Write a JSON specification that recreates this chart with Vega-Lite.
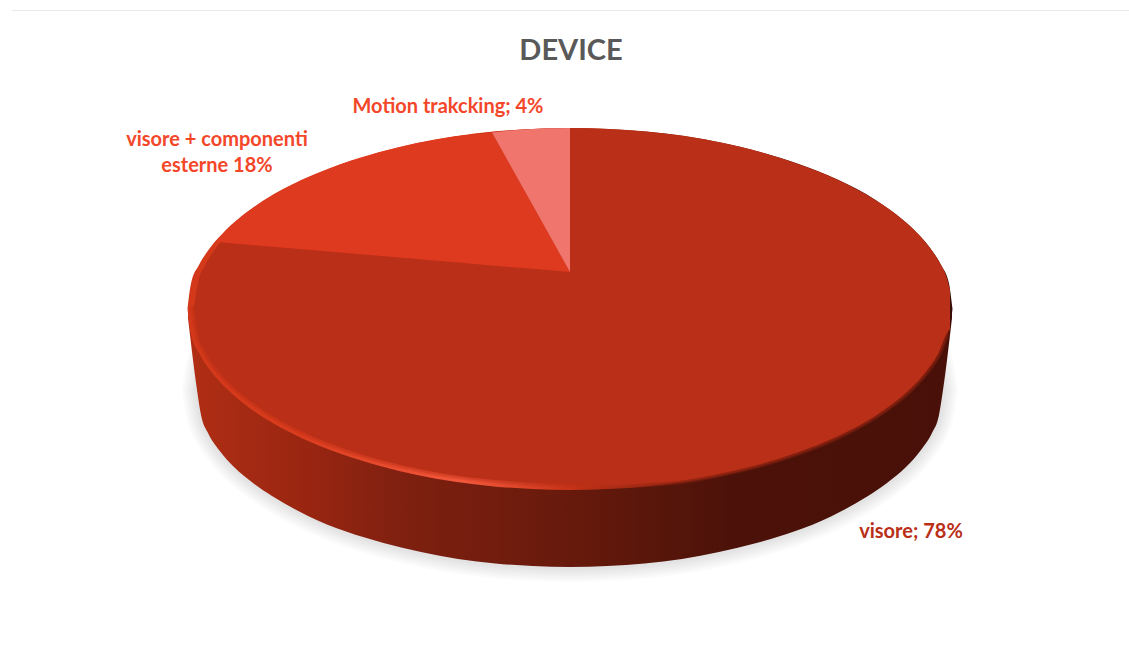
{
  "$schema": "https://vega.github.io/schema/vega-lite/v6.json",
  "width": 1129,
  "height": 666,
  "padding": 0,
  "autosize": {"type": "none"},
  "background": "#ffffff",
  "config": {"view": {"stroke": null}},
  "datasets": {
    "base": [
      {"x":197,"top":390,"low":390},{"x":201,"top":365,"low":415},{"x":208,"top":347,"low":433},{"x":219,"top":330,"low":450},{"x":234,"top":313,"low":467},{"x":253,"top":297,"low":483},{"x":272,"top":284,"low":496},{"x":309,"top":263.6,"low":516.4},{"x":346,"top":248.4,"low":531.6},{"x":383.5,"top":237,"low":543},{"x":421,"top":228,"low":552},{"x":458,"top":221,"low":559},{"x":495.4,"top":216.5,"low":563.5},{"x":532.7,"top":214,"low":566},{"x":570,"top":213,"low":567},{"x":607.3,"top":214,"low":566},{"x":644.6,"top":216.5,"low":563.5},{"x":682,"top":221,"low":559},{"x":719,"top":228,"low":552},{"x":756.5,"top":237,"low":543},{"x":794,"top":248.4,"low":531.6},{"x":831,"top":263.6,"low":516.4},{"x":868,"top":284,"low":496},{"x":887,"top":297,"low":483},{"x":906,"top":313,"low":467},{"x":921,"top":330,"low":450},{"x":932,"top":347,"low":433},{"x":939,"top":365,"low":415},{"x":943,"top":390,"low":390}
    ],
    "side": [
      {"x":188,"top":309,"low":318},{"x":197,"top":309,"low":390},{"x":201,"top":309,"low":415},{"x":208,"top":309,"low":433},{"x":219,"top":309,"low":450},{"x":234,"top":309,"low":467},{"x":253,"top":309,"low":483},{"x":272,"top":309,"low":496},{"x":309,"top":309,"low":516.4},{"x":346,"top":309,"low":531.6},{"x":383.5,"top":309,"low":543},{"x":421,"top":309,"low":552},{"x":458,"top":309,"low":559},{"x":495.4,"top":309,"low":563.5},{"x":532.7,"top":309,"low":566},{"x":570,"top":309,"low":567},{"x":607.3,"top":309,"low":566},{"x":644.6,"top":309,"low":563.5},{"x":682,"top":309,"low":559},{"x":719,"top":309,"low":552},{"x":756.5,"top":309,"low":543},{"x":794,"top":309,"low":531.6},{"x":831,"top":309,"low":516.4},{"x":868,"top":309,"low":496},{"x":887,"top":309,"low":483},{"x":906,"top":309,"low":467},{"x":921,"top":309,"low":450},{"x":932,"top":309,"low":433},{"x":939,"top":309,"low":415},{"x":943,"top":309,"low":390},{"x":952,"top":309,"low":318}
    ],
    "rim": [
      {"x":187.5,"top":309,"low":309},{"x":191,"top":283.5,"low":334.5},{"x":199,"top":265,"low":353},{"x":210.5,"top":247.3,"low":370.7},{"x":226,"top":230,"low":388},{"x":245,"top":213.6,"low":404.4},{"x":264,"top":200.2,"low":417.8},{"x":302,"top":179.8,"low":438.2},{"x":340.5,"top":164.2,"low":453.8},{"x":379,"top":152.3,"low":465.7},{"x":417,"top":143,"low":475},{"x":455,"top":136.3,"low":481.7},{"x":493.5,"top":131.6,"low":486.4},{"x":532,"top":129,"low":489},{"x":570,"top":128,"low":490},{"x":608,"top":129,"low":489},{"x":646.5,"top":131.6,"low":486.4},{"x":685,"top":136.3,"low":481.7},{"x":723,"top":143,"low":475},{"x":761,"top":152.3,"low":465.7},{"x":799.5,"top":164.2,"low":453.8},{"x":838,"top":179.8,"low":438.2},{"x":876,"top":200.2,"low":417.8},{"x":895,"top":213.6,"low":404.4},{"x":914,"top":230,"low":388},{"x":929.5,"top":247.3,"low":370.7},{"x":941,"top":265,"low":353},{"x":949,"top":283.5,"low":334.5},{"x":952.5,"top":309,"low":309}
    ],
    "visoreLowerEdge": [
      {"x":194,"top":309,"low":309},{"x":197.8,"top":309,"low":333.7},{"x":205.3,"top":309,"low":351.5},{"x":216.7,"top":309,"low":368.7},{"x":231.8,"top":309,"low":385.3},{"x":250.7,"top":309,"low":401},{"x":269.6,"top":309,"low":414},{"x":307.4,"top":309,"low":434},{"x":345.2,"top":309,"low":449},{"x":383,"top":309,"low":460.6},{"x":420.8,"top":309,"low":469.5},{"x":458.6,"top":309,"low":476},{"x":496.4,"top":309,"low":480},{"x":534.2,"top":309,"low":483},{"x":572,"top":309,"low":484.5},{"x":609.8,"top":309,"low":485},{"x":647.6,"top":309,"low":483.5},{"x":685.4,"top":309,"low":480},{"x":723.2,"top":309,"low":473},{"x":761,"top":309,"low":464},{"x":798.8,"top":309,"low":452},{"x":836.6,"top":309,"low":436.8},{"x":874.4,"top":309,"low":416.4},{"x":893.3,"top":309,"low":403.3},{"x":912.2,"top":309,"low":387},{"x":927.3,"top":309,"low":370},{"x":938.7,"top":309,"low":352.5},{"x":946.2,"top":309,"low":334.2}
    ],
    "visore": [
      {"label":"visore","share":78,"x":194,"top":309,"low":309},{"label":"visore","share":78,"x":197.8,"top":283.5,"low":333.7},{"label":"visore","share":78,"x":205.3,"top":265,"low":351.5},{"label":"visore","share":78,"x":216.7,"top":247.3,"low":368.7},{"label":"visore","share":78,"x":231.8,"top":230.1,"low":385.3},{"label":"visore","share":78,"x":250.7,"top":213.6,"low":401},{"label":"visore","share":78,"x":269.6,"top":200.2,"low":414},{"label":"visore","share":78,"x":307.4,"top":179.8,"low":434},{"label":"visore","share":78,"x":345.2,"top":164.2,"low":449},{"label":"visore","share":78,"x":383,"top":152.3,"low":460.6},{"label":"visore","share":78,"x":420.8,"top":143,"low":469.5},{"label":"visore","share":78,"x":458.6,"top":136.3,"low":476},{"label":"visore","share":78,"x":496.4,"top":131.6,"low":480},{"label":"visore","share":78,"x":534.2,"top":129,"low":483},{"label":"visore","share":78,"x":572,"top":128,"low":484.5},{"label":"visore","share":78,"x":609.8,"top":129,"low":485},{"label":"visore","share":78,"x":647.6,"top":131.8,"low":483.5},{"label":"visore","share":78,"x":685.4,"top":136.1,"low":480},{"label":"visore","share":78,"x":723.2,"top":143.1,"low":473},{"label":"visore","share":78,"x":761,"top":152.2,"low":464},{"label":"visore","share":78,"x":798.8,"top":164.2,"low":452},{"label":"visore","share":78,"x":836.6,"top":179.2,"low":436.8},{"label":"visore","share":78,"x":874.4,"top":199.5,"low":416.4},{"label":"visore","share":78,"x":893.3,"top":212.2,"low":403.3},{"label":"visore","share":78,"x":912.2,"top":228.1,"low":387},{"label":"visore","share":78,"x":927.3,"top":244.4,"low":370},{"label":"visore","share":78,"x":938.7,"top":261,"low":352.5},{"label":"visore","share":78,"x":946.2,"top":276.3,"low":334.2},{"label":"visore","share":78,"x":950,"top":290,"low":329}
    ],
    "esterne": [
      {"label":"visore + componenti esterne","share":18,"x":217,"top":241,"low":242},{"label":"visore + componenti esterne","share":18,"x":226,"top":230,"low":242.8},{"label":"visore + componenti esterne","share":18,"x":245,"top":213.6,"low":244.4},{"label":"visore + componenti esterne","share":18,"x":264,"top":200.2,"low":246},{"label":"visore + componenti esterne","share":18,"x":302,"top":179.8,"low":249.2},{"label":"visore + componenti esterne","share":18,"x":340.5,"top":164.2,"low":252.5},{"label":"visore + componenti esterne","share":18,"x":379,"top":152.3,"low":255.8},{"label":"visore + componenti esterne","share":18,"x":417,"top":143,"low":259},{"label":"visore + componenti esterne","share":18,"x":455,"top":136.3,"low":262.2},{"label":"visore + componenti esterne","share":18,"x":492,"top":132.5,"low":265.4},{"label":"visore + componenti esterne","share":18,"x":510,"top":164.7,"low":267},{"label":"visore + componenti esterne","share":18,"x":530,"top":200.5,"low":268.6},{"label":"visore + componenti esterne","share":18,"x":550,"top":236.2,"low":270.3},{"label":"visore + componenti esterne","share":18,"x":570,"top":272,"low":272}
    ],
    "motion": [
      {"label":"Motion trakcking","share":4,"x":492,"top":132.5,"low":132.5},{"label":"Motion trakcking","share":4,"x":510,"top":130.5,"low":164.7},{"label":"Motion trakcking","share":4,"x":532,"top":129,"low":204},{"label":"Motion trakcking","share":4,"x":550,"top":128.3,"low":236.2},{"label":"Motion trakcking","share":4,"x":570,"top":128,"low":272}
    ],
    "labels": [
      {"text":"Motion trakcking; 4%","x":448,"y":107,"group":"motion"},
      {"text":"visore + componenti","x":217,"y":140,"group":"esterne"},
      {"text":"esterne 18%","x":217,"y":166,"group":"esterne"},
      {"text":"visore; 78%","x":911,"y":532,"group":"visore"}
    ]
  },
  "encoding": {
    "x": {"field": "x", "type": "quantitative", "scale": {"domain": [0, 1129]}, "axis": null},
    "y": {"field": "top", "type": "quantitative", "scale": {"domain": [666, 0]}, "axis": null},
    "y2": {"field": "low"}
  },
  "layer": [
    {
      "data": {"values": [{"x": 12, "x2": 1129, "y": 10.5}]},
      "mark": {"type": "rule", "color": "#e9e9e9", "strokeWidth": 1},
      "encoding": {
        "x": {"field": "x", "type": "quantitative", "scale": {"domain": [0, 1129]}, "axis": null},
        "x2": {"field": "x2"},
        "y": {"field": "y", "type": "quantitative", "scale": {"domain": [666, 0]}, "axis": null},
        "y2": null
      }
    },
    {"data": {"name": "base"}, "mark": {"type": "area", "orient": "vertical", "interpolate": "monotone", "fillOpacity": 0, "stroke": "#000000", "strokeOpacity": 0.017, "strokeWidth": 30}},
    {"data": {"name": "base"}, "mark": {"type": "area", "orient": "vertical", "interpolate": "monotone", "fillOpacity": 0, "stroke": "#000000", "strokeOpacity": 0.017, "strokeWidth": 26}},
    {"data": {"name": "base"}, "mark": {"type": "area", "orient": "vertical", "interpolate": "monotone", "fillOpacity": 0, "stroke": "#000000", "strokeOpacity": 0.017, "strokeWidth": 22}},
    {"data": {"name": "base"}, "mark": {"type": "area", "orient": "vertical", "interpolate": "monotone", "fillOpacity": 0, "stroke": "#000000", "strokeOpacity": 0.017, "strokeWidth": 18}},
    {"data": {"name": "base"}, "mark": {"type": "area", "orient": "vertical", "interpolate": "monotone", "fillOpacity": 0, "stroke": "#000000", "strokeOpacity": 0.017, "strokeWidth": 14}},
    {"data": {"name": "base"}, "mark": {"type": "area", "orient": "vertical", "interpolate": "monotone", "fillOpacity": 0, "stroke": "#000000", "strokeOpacity": 0.017, "strokeWidth": 10}},
    {"data": {"name": "base"}, "mark": {"type": "area", "orient": "vertical", "interpolate": "monotone", "fillOpacity": 0, "stroke": "#000000", "strokeOpacity": 0.017, "strokeWidth": 6}},
    {
      "data": {"name": "side"},
      "mark": {"type": "area", "orient": "vertical", "interpolate": "monotone",
        "color": {"gradient": "linear", "x1": 0, "x2": 1, "y1": 0, "y2": 0, "stops": [
          {"offset": 0, "color": "#b02e14"}, {"offset": 0.15, "color": "#9a2611"}, {"offset": 0.28, "color": "#7f2010"},
          {"offset": 0.5, "color": "#671a0c"}, {"offset": 0.71, "color": "#4c1209"}, {"offset": 1, "color": "#481008"}
        ]}}
    },
    {
      "data": {"name": "rim"},
      "mark": {"type": "area", "orient": "vertical", "interpolate": "monotone",
        "color": {"gradient": "linear", "x1": 0, "x2": 1, "y1": 0, "y2": 0, "stops": [
          {"offset": 0, "color": "#d23819"}, {"offset": 0.15, "color": "#dc3d1e"}, {"offset": 0.36, "color": "#f4583c"},
          {"offset": 0.5, "color": "#c83418"}, {"offset": 0.6, "color": "#8a2410"}, {"offset": 0.75, "color": "#501208"}, {"offset": 1, "color": "#3a0c06"}
        ]}}
    },
    {"data": {"name": "visoreLowerEdge"}, "mark": {"type": "area", "orient": "vertical", "interpolate": "monotone", "fillOpacity": 0, "stroke": "#ba2f17", "strokeOpacity": 0.25, "strokeWidth": 7}},
    {"data": {"name": "visoreLowerEdge"}, "mark": {"type": "area", "orient": "vertical", "interpolate": "monotone", "fillOpacity": 0, "stroke": "#ba2f17", "strokeOpacity": 0.35, "strokeWidth": 4}},
    {
      "data": {"name": "visore"},
      "mark": {"type": "area", "orient": "vertical", "interpolate": "monotone", "color": "#ba2f17"}
    },
    {"data": {"name": "esterne"}, "mark": {"type": "area", "orient": "vertical", "color": "#de3a1f"}},
    {"data": {"name": "motion"}, "mark": {"type": "area", "orient": "vertical", "color": "#f0756c"}},
    {
      "data": {"values": [{"text": "DEVICE", "x": 571, "y": 51}]},
      "mark": {"type": "text", "font": "Lato", "fontWeight": "bold", "fontSize": 29, "color": "#595959", "align": "center", "baseline": "middle"},
      "encoding": {
        "x": {"field": "x", "type": "quantitative", "scale": {"domain": [0, 1129]}, "axis": null},
        "y": {"field": "y", "type": "quantitative", "scale": {"domain": [666, 0]}, "axis": null},
        "y2": null,
        "text": {"field": "text"}
      }
    },
    {
      "data": {"name": "labels"},
      "mark": {"type": "text", "font": "Lato", "fontWeight": "bold", "fontSize": 20, "align": "center", "baseline": "middle"},
      "encoding": {
        "x": {"field": "x", "type": "quantitative", "scale": {"domain": [0, 1129]}, "axis": null},
        "y": {"field": "y", "type": "quantitative", "scale": {"domain": [666, 0]}, "axis": null},
        "y2": null,
        "text": {"field": "text"},
        "color": {"field": "group", "type": "nominal", "legend": null,
          "scale": {"domain": ["motion", "esterne", "visore"], "range": ["#f4472a", "#f4472a", "#ba2f17"]}}
      }
    }
  ]
}
